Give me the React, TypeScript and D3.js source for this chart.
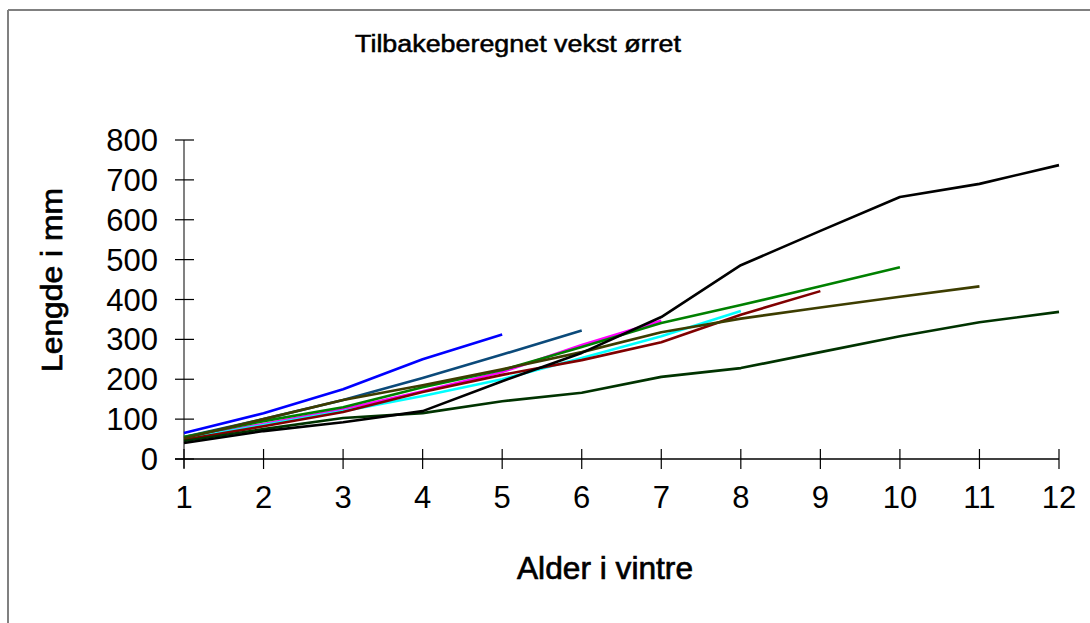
import React, { useEffect, useRef } from 'react';
import * as d3 from 'd3';

const ages = [1, 2, 3, 4, 5, 6, 7, 8, 9, 10, 11, 12];
const yTicks = [0, 100, 200, 300, 400, 500, 600, 700, 800];

// length in mm per age (winters), each fish back-calculated
const fishBlue = [65, 115, 175, 250, 312];
const fishNavy = [55, 100, 148, 203, 262, 322];
const fishMagenta = [52, 88, 125, 170, 218, 286, 347];
const fishCyan = [50, 85, 120, 158, 200, 253, 308, 371];
const fishRed = [48, 82, 118, 168, 211, 248, 293, 362, 421];
const fishGreen = [55, 95, 130, 180, 223, 281, 341, 386, 433, 481];
const fishOlive = [52, 100, 148, 185, 225, 268, 318, 352, 380, 407, 433];
const fishDarkGreen = [45, 75, 103, 115, 145, 166, 206, 228, 268, 308, 343, 369];
const fishBlack = [40, 70, 92, 120, 195, 266, 356, 486, 572, 657, 690, 737];

const series = [
  { name: 'fisk1', color: '#0000ff', values: fishBlue },
  { name: 'fisk2', color: '#0b4a7a', values: fishNavy },
  { name: 'fisk3', color: '#ff00ff', values: fishMagenta },
  { name: 'fisk4', color: '#00ffff', values: fishCyan },
  { name: 'fisk5', color: '#800000', values: fishRed },
  { name: 'fisk6', color: '#008000', values: fishGreen },
  { name: 'fisk7', color: '#3d3d00', values: fishOlive },
  { name: 'fisk8', color: '#003300', values: fishDarkGreen },
  { name: 'fisk9', color: '#000000', values: fishBlack },
];

const W = 1090;
const H = 623;

const App: React.FC = () => {
  const svgRef = useRef<SVGSVGElement>(null);

  useEffect(() => {
    if (!svgRef.current) return;
    const svg = d3.select(svgRef.current);
    svg.selectAll('*').remove();

    const font = '"Liberation Sans", Arial, sans-serif';

    const x = d3.scaleLinear().domain([1, 12]).range([184, 1059]);
    const y = d3.scaleLinear().domain([0, 800]).range([459, 140]);

    // outer frame (only top and left edges show)
    svg.append('line')
      .attr('x1', 8).attr('y1', 10).attr('x2', W).attr('y2', 10)
      .attr('stroke', '#808080').attr('stroke-width', 2);
    svg.append('line')
      .attr('x1', 8).attr('y1', 10).attr('x2', 8).attr('y2', H)
      .attr('stroke', '#808080').attr('stroke-width', 2);

    // title
    svg.append('text')
      .attr('x', 355).attr('y', 52)
      .attr('font-family', font).attr('font-size', 23)
      .attr('stroke', '#000').attr('stroke-width', 0.5)
      .attr('textLength', 326).attr('lengthAdjust', 'spacingAndGlyphs')
      .text('Tilbakeberegnet vekst ørret');

    // y axis
    svg.append('line')
      .attr('x1', 184).attr('x2', 184).attr('y1', y(800)).attr('y2', 468)
      .attr('stroke', '#808080').attr('stroke-width', 2);
    const yg = svg.append('g');
    yg.selectAll('line')
      .data(yTicks)
      .enter()
      .append('line')
      .attr('x1', 175).attr('x2', 194)
      .attr('y1', d => y(d)).attr('y2', d => y(d))
      .attr('stroke', '#000').attr('stroke-width', 1.2);
    yg.selectAll('text')
      .data(yTicks)
      .enter()
      .append('text')
      .attr('x', 158).attr('y', d => y(d) + 11)
      .attr('text-anchor', 'end')
      .attr('font-family', font).attr('font-size', 31)
      .text(d => d);

    // x axis
    svg.append('line')
      .attr('x1', 175).attr('x2', x(12)).attr('y1', y(0)).attr('y2', y(0))
      .attr('stroke', '#000').attr('stroke-width', 1.5);
    const xg = svg.append('g');
    xg.selectAll('line')
      .data(ages)
      .enter()
      .append('line')
      .attr('x1', d => x(d)).attr('x2', d => x(d))
      .attr('y1', 449).attr('y2', 469)
      .attr('stroke', '#000').attr('stroke-width', 1.2);
    xg.selectAll('text')
      .data(ages)
      .enter()
      .append('text')
      .attr('x', d => x(d)).attr('y', 508)
      .attr('text-anchor', 'middle')
      .attr('font-family', font).attr('font-size', 31)
      .text(d => d);

    // axis titles
    svg.append('text')
      .attr('x', 517).attr('y', 579)
      .attr('font-family', font).attr('font-size', 32)
      .attr('stroke', '#000').attr('stroke-width', 0.7)
      .attr('textLength', 176).attr('lengthAdjust', 'spacingAndGlyphs')
      .text('Alder i vintre');
    svg.append('text')
      .attr('transform', 'translate(62,372) rotate(-90)')
      .attr('font-family', font).attr('font-size', 30)
      .attr('stroke', '#000').attr('stroke-width', 0.7)
      .attr('textLength', 184).attr('lengthAdjust', 'spacingAndGlyphs')
      .text('Lengde i mm');

    // lines
    const line = d3.line<number>()
      .x((_, i) => x(ages[i]))
      .y(d => y(d));

    svg.append('g')
      .selectAll('path')
      .data(series)
      .enter()
      .append('path')
      .attr('d', d => line(d.values))
      .attr('fill', 'none')
      .attr('stroke', d => d.color)
      .attr('stroke-width', 2.6)
      .attr('stroke-linejoin', 'round');
  }, []);

  return (
    <svg
      ref={svgRef}
      width={W}
      height={H}
      style={{ position: 'absolute', left: 0, top: 0, background: '#fff' }}
    />
  );
};

export default App;
